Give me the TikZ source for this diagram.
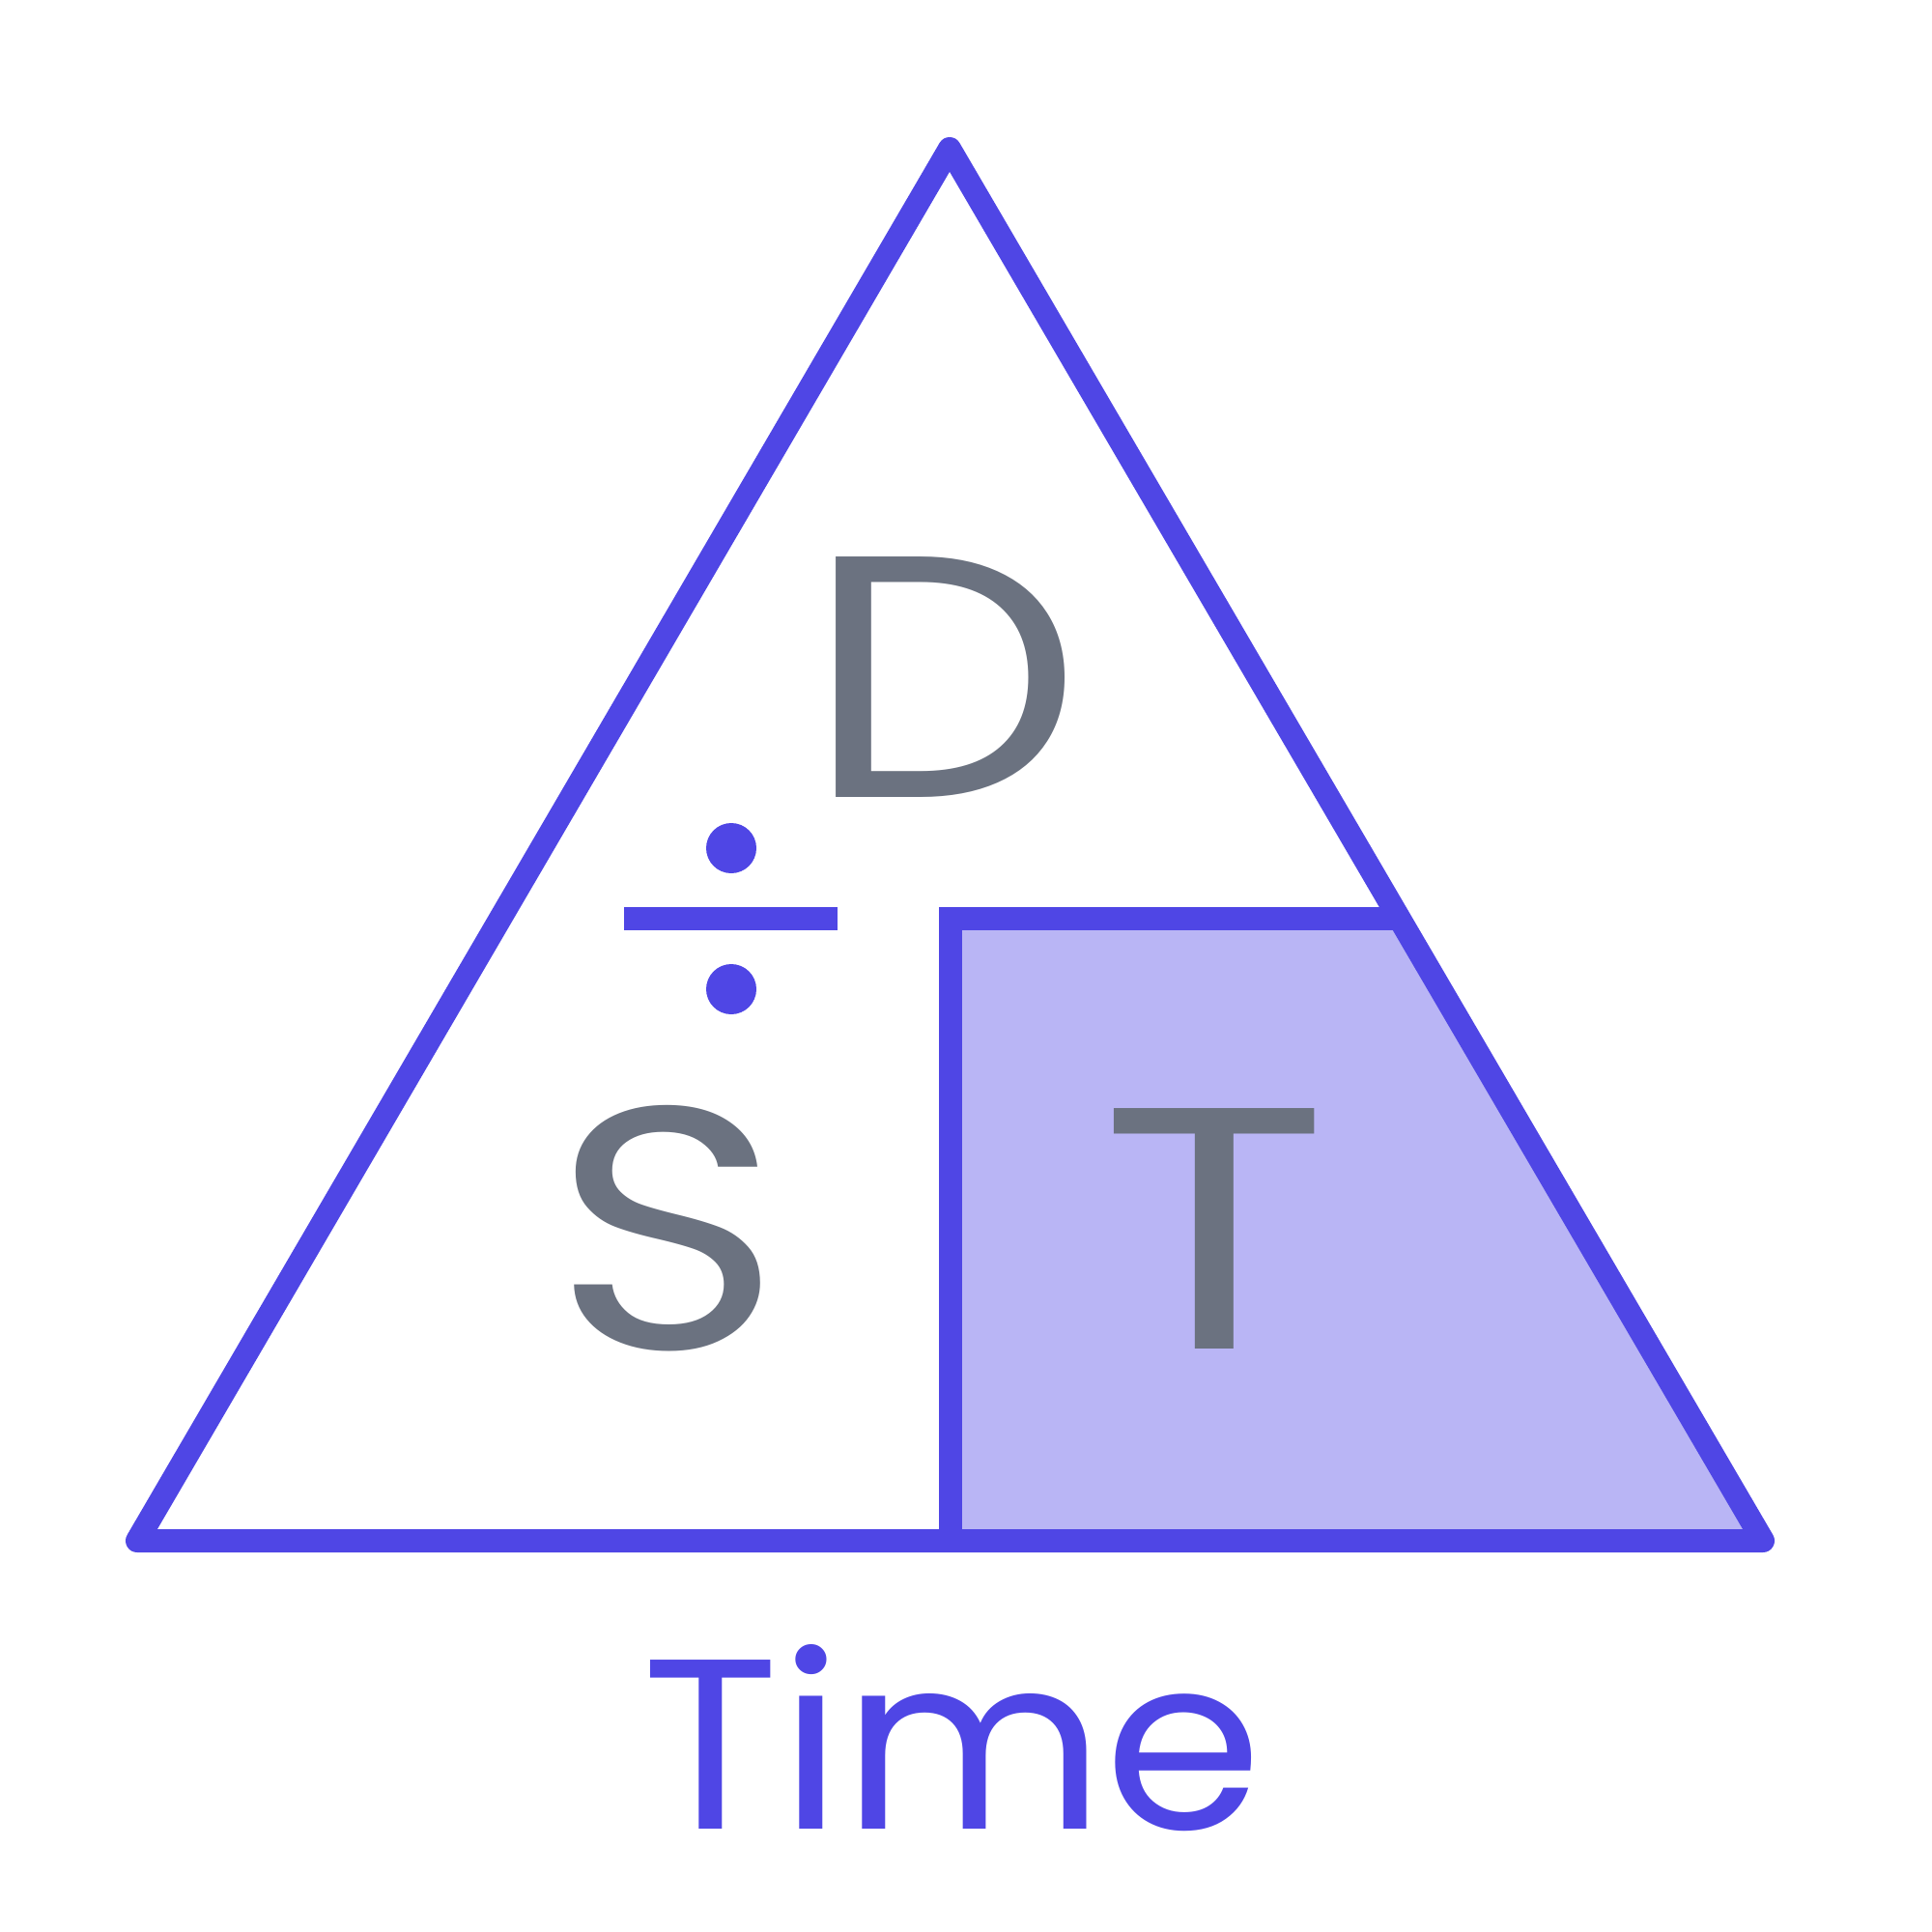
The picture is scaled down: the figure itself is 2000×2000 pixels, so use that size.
\documentclass[tikz,border=0pt]{standalone}
\usepackage{fontspec}
\setmainfont{Poppins}
\definecolor{ind}{HTML}{4F46E5}
\definecolor{gr}{HTML}{6B7280}
\begin{document}
\begin{tikzpicture}[x=0.5pt,y=-0.5pt,
  edge/.style={draw=ind, line width=12pt},
  bigletter/.style={text=gr, anchor=base, inner sep=0pt, font=\fontsize{178.6pt}{180pt}\selectfont},
  caption/.style={text=ind, anchor=base, inner sep=0pt, font=\fontsize{125.5pt}{127pt}\selectfont}]
\useasboundingbox (0,0) rectangle (2000,2000);
% shaded region
\fill[ind!40] (984,951) -- (1449,951) -- (1825,1595) -- (984,1595) -- cycle;
% inner box
\draw[edge, line join=miter] (984,1595) -- (984,951) -- (1449,951);
% triangle
\draw[edge, line join=round] (983,154) -- (1825,1595) -- (142,1595) -- cycle;
% division sign
\fill[ind] (646,939) rectangle (867,963);
\fill[ind] (757,878) circle[radius=13pt];
\fill[ind] (757,1024) circle[radius=13pt];
% letters
\node[bigletter] (D) at (977.5,825) {\scalebox{1.13}[1]{D}};
\node[bigletter] (S) at (691,1396) {\scalebox{1.14}[1]{S}};
\node[bigletter] (T) at (1257,1396) {\scalebox{1.23}[1]{T}};
\node[caption] (time) at (986,1893) {\scalebox{1.05}[1]{Time}};
\end{tikzpicture}
\end{document}
